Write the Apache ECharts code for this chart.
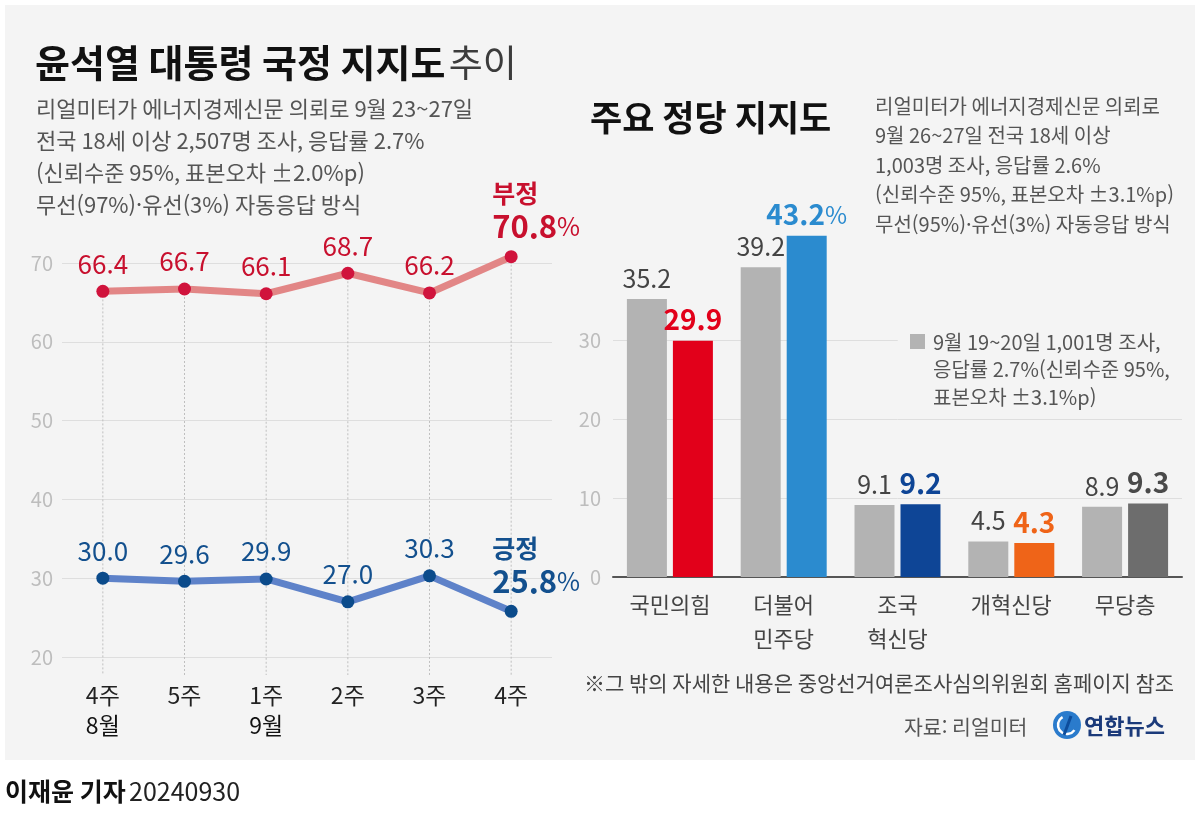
<!DOCTYPE html>
<html lang="ko">
<head>
<meta charset="utf-8">
<title>윤석열 대통령 국정 지지도 추이</title>
<script src="https://cdn.jsdelivr.net/npm/echarts@6/dist/echarts.min.js"></script>
<style>
    html, body { margin: 0; padding: 0; background: #fff; }
    #chart { width: 1200px; height: 823px; }
</style>
</head>
<body>
<div id="chart"></div>
<script>
const FONT = '"Noto Sans CJK KR", "Noto Sans", sans-serif';
const PANEL = '#f4f4f4';

// ── 국정 지지도 (주간) ──
const weekLabels = ['4주', '5주', '1주', '2주', '3주', '4주'];
const monthLabels = ['8월', '', '9월', '', '', ''];
const negative = [66.4, 66.7, 66.1, 68.7, 66.2, 70.8];
const positive = [30.0, 29.6, 29.9, 27.0, 30.3, 25.8];
const approvalTicks = { min: 20, max: 70, interval: 10 };

// ── 주요 정당 지지도 ──
const parties = ['국민의힘', '더불어\n민주당', '조국\n혁신당', '개혁신당', '무당층'];
const prevSupport = [35.2, 39.2, 9.1, 4.5, 8.9];
const currSupport = [29.9, 43.2, 9.2, 4.3, 9.3];
const partyColors = ['#e2001a', '#2b8bcf', '#0e4596', '#ef6418', '#6d6d6d'];
const partyLabelColors = ['#e2001a', '#2b8bcf', '#0e4596', '#ef6418', '#4a4a4a'];
const partyTicks = { min: 0, max: 30, interval: 10 };

// ── 텍스트 ──
const leftNotes = [
    '리얼미터가 에너지경제신문 의뢰로 9월 23~27일',
    '전국 18세 이상 2,507명 조사, 응답률 2.7%',
    '(신뢰수준 95%, 표본오차 ±2.0%p)',
    '무선(97%)·유선(3%) 자동응답 방식',
];
const rightNotes = [
    '리얼미터가 에너지경제신문 의뢰로',
    '9월 26~27일 전국 18세 이상',
    '1,003명 조사, 응답률 2.6%',
    '(신뢰수준 95%, 표본오차 ±3.1%p)',
    '무선(95%)·유선(3%) 자동응답 방식',
];
const legendNotes = [
    '9월 19~20일 1,001명 조사,',
    '응답률 2.7%(신뢰수준 95%,',
    '표본오차 ±3.1%p)',
];

function text(x, y, str, size, color, extra = {}) {
    return {
        type: 'text', x, y, silent: true,
        style: { text: str, fontSize: size, fontFamily: FONT, fill: color, verticalAlign: 'middle', ...extra },
    };
}

function endLabel(name, v, color) {
    return {
        position: 'top', align: 'left', offset: [-19, 0], distance: 7,
        formatter: `{n|${name}}\n{v|${v.toFixed(1)}}{p|%}`,
        rich: {
            n: { fontSize: 25, fontWeight: 'bold', color, lineHeight: 33, fontFamily: FONT },
            v: { fontSize: 31, fontWeight: 'bold', color, lineHeight: 33, fontFamily: FONT },
            p: { fontSize: 25, color, lineHeight: 33, fontFamily: FONT },
        },
    };
}

function lineSeries(values, name, lineColor, dotColor, textColor) {
    const last = values.length - 1;
    return {
        type: 'line', xAxisIndex: 0, yAxisIndex: 0, z: 3, clip: false,
        data: values.map((v, i) => i === last ? { value: v, label: endLabel(name, v, textColor) } : v),
        symbol: 'circle', symbolSize: 13,
        lineStyle: { color: lineColor, width: 7 },
        itemStyle: { color: dotColor },
        label: {
            show: true, position: 'top', distance: 8, color: textColor, fontSize: 26, fontFamily: FONT,
            formatter: p => Number(p.value).toFixed(1),
        },
        emphasis: { disabled: true },
    };
}

const graphics = [
    { type: 'rect', z: -100, silent: true, shape: { x: 5, y: 5, width: 1190, height: 755 }, style: { fill: PANEL } },
    {
        type: 'text', x: 35, y: 63, silent: true,
        style: {
            text: '{b|윤석열 대통령 국정 지지도} {r|추이}', verticalAlign: 'middle',
            rich: {
                b: { fontSize: 38, fontWeight: 'bold', fill: '#111', fontFamily: FONT },
                r: { fontSize: 37, fill: '#3c3c3c', fontFamily: FONT },
            },
        },
    },
    text(590, 118, '주요 정당 지지도', 35, '#111', { fontWeight: 'bold' }),
    // 범례 뒤 격자선 가림
    { type: 'rect', z: 100, silent: true, shape: { x: 898, y: 328, width: 292, height: 84 }, style: { fill: PANEL } },
    { type: 'rect', z: 101, silent: true, shape: { x: 910, y: 334, width: 15, height: 15 }, style: { fill: '#b3b3b3' } },
    text(584, 683, '※그 밖의 자세한 내용은 중앙선거여론조사심의위원회 홈페이지 참조', 21, '#444'),
    text(904, 727, '자료: 리얼미터', 20.5, '#555'),
    // 연합뉴스 로고
    { type: 'circle', silent: true, shape: { cx: 1067, cy: 725, r: 14 }, style: { fill: '#2a7bcc' } },
    { type: 'arc', silent: true, shape: { cx: 1067, cy: 725, r: 9, startAngle: 0.6, endAngle: 4.2 }, style: { stroke: '#fff', lineWidth: 2.5, fill: null } },
    { type: 'line', silent: true, shape: { x1: 1071, y1: 716, x2: 1064, y2: 735 }, style: { stroke: '#0d4d9c', lineWidth: 3 } },
    text(1084, 726, '연합뉴스', 22, '#1b3a7a', { fontWeight: 'bold' }),
    {
        type: 'text', x: 5, y: 791, silent: true,
        style: {
            text: '{b|이재윤 기자} {r|20240930}', verticalAlign: 'middle',
            rich: {
                b: { fontSize: 25, fontWeight: 'bold', fill: '#111', fontFamily: FONT },
                r: { fontSize: 25, fill: '#222', fontFamily: FONT },
            },
        },
    },
];
leftNotes.forEach((s, i) => graphics.push(text(36, 109 + i * 32, s, 22, '#555')));
rightNotes.forEach((s, i) => graphics.push(text(875, 106 + i * 29.6, s, 20, '#555')));
legendNotes.forEach((s, i) => graphics.push({ ...text(933, 342 + i * 27.5, s, 20, '#555'), z: 102 }));

const chart = echarts.init(document.getElementById('chart'), null, { renderer: 'canvas' });
const maxCurr = Math.max(...currSupport);

chart.setOption({
    backgroundColor: '#fff',
    animation: false,
    textStyle: { fontFamily: FONT },
    grid: [
        { left: 62, right: 648, top: 263, bottom: 166 },
        { left: 613, right: 18, top: 340, bottom: 246 },
    ],
    xAxis: [
        {
            type: 'category', gridIndex: 0, data: weekLabels,
            axisLine: { show: false }, axisTick: { show: false },
            axisLabel: {
                margin: 23,
                formatter: (val, idx) => monthLabels[idx] ? `{w|${val}}\n{m|${monthLabels[idx]}}` : `{w|${val}}`,
                rich: {
                    w: { fontSize: 23, color: '#222', lineHeight: 30, fontFamily: FONT },
                    m: { fontSize: 23, color: '#111', lineHeight: 30, fontFamily: FONT },
                },
            },
        },
        {
            type: 'category', gridIndex: 1, data: parties,
            axisLine: { lineStyle: { color: '#555', width: 2 } }, axisTick: { show: false },
            axisLabel: { margin: 11, fontSize: 22, color: '#444', lineHeight: 34, fontFamily: FONT },
        },
    ],
    yAxis: [
        {
            type: 'value', gridIndex: 0, ...approvalTicks,
            axisLine: { show: false }, axisTick: { show: false },
            axisLabel: { margin: 9, fontSize: 20, color: '#bdbdbd', fontFamily: FONT },
            splitLine: { lineStyle: { color: '#dedede', width: 1 } },
        },
        {
            type: 'value', gridIndex: 1, ...partyTicks,
            axisLine: { show: false }, axisTick: { show: false },
            axisLabel: { margin: 12, fontSize: 20, color: '#bdbdbd', fontFamily: FONT },
            splitLine: { lineStyle: { color: '#dedede', width: 1 } },
        },
    ],
    series: [
        {
            // 점선 세로 안내선
            type: 'custom', xAxisIndex: 0, yAxisIndex: 0, z: 1, silent: true,
            data: negative.map((v, i) => [i, v]),
            renderItem: (params, api) => {
                const top = api.coord([api.value(0), api.value(1)]);
                const bottom = api.coord([api.value(0), approvalTicks.min]);
                return {
                    type: 'line',
                    shape: { x1: top[0], y1: top[1], x2: bottom[0], y2: bottom[1] + 18 },
                    style: { stroke: '#bfbfbf', lineWidth: 1, lineDash: [2, 2] },
                };
            },
        },
        lineSeries(negative, '부정', '#e28686', '#d0133c', '#c8102e'),
        lineSeries(positive, '긍정', '#5e82c9', '#0b4b8b', '#13508e'),
        {
            type: 'bar', xAxisIndex: 1, yAxisIndex: 1, data: prevSupport, clip: false,
            barWidth: 40, barGap: '15%',
            itemStyle: { color: '#b3b3b3' },
            label: { show: true, position: 'top', distance: 8, color: '#444', fontSize: 25, fontFamily: FONT },
            emphasis: { disabled: true },
        },
        {
            type: 'bar', xAxisIndex: 1, yAxisIndex: 1, clip: false,
            barWidth: 40, barGap: '15%',
            data: currSupport.map((v, i) => ({
                value: v,
                itemStyle: { color: partyColors[i] },
                label: { color: partyLabelColors[i] },
            })),
            label: {
                show: true, position: 'top', distance: 7, fontSize: 28, fontWeight: 'bold', fontFamily: FONT,
                formatter: p => p.value === maxCurr ? `{v|${p.value}}{p|%}` : `{v|${p.value}}`,
                rich: {
                    v: { fontSize: 28, fontWeight: 'bold', fontFamily: FONT },
                    p: { fontSize: 24, fontWeight: 'normal', fontFamily: FONT },
                },
            },
            emphasis: { disabled: true },
        },
    ],
    graphic: graphics,
});
</script>
</body>
</html>
